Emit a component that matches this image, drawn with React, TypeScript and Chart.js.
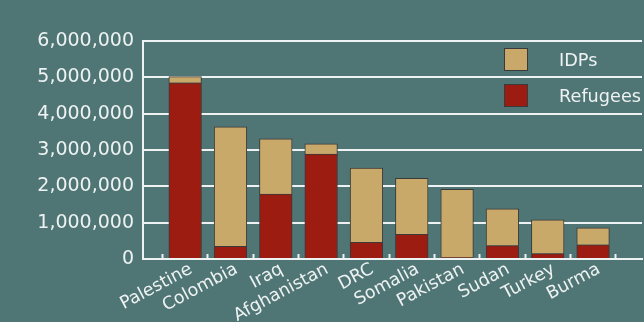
import { useEffect, useRef } from 'react';
import { Chart, registerables } from 'chart.js';

Chart.register(...registerables);

// Displaced populations by country of origin
const countries = ['Palestine', 'Colombia', 'Iraq', 'Afghanistan', 'DRC', 'Somalia', 'Pakistan', 'Sudan', 'Turkey', 'Burma'];
const refugees = [4850000, 350000, 1790000, 2890000, 460000, 680000, 40000, 370000, 150000, 390000];
const idps = [170000, 3290000, 1520000, 280000, 2040000, 1540000, 1880000, 1010000, 930000, 470000];
const yMax = 6000000;
const yStep = 1000000;

const BG = '#4f7575';
const RED = '#9c1c12';
const TAN = '#c9a969';
const EDGE = '#3a3a3a';
const WHITE = '#eef2f2';
const FONT = "'DejaVu Sans', sans-serif";

// Legend drawn inside the plot, top-right, IDPs above Refugees
const sideLegend = {
  id: 'sideLegend',
  afterDraw(chart: any) {
    const { ctx, chartArea } = chart;
    const sets = [...chart.data.datasets].reverse();
    ctx.save();
    ctx.font = `17.7px ${FONT}`;
    ctx.textBaseline = 'middle';
    ctx.textAlign = 'left';
    sets.forEach((ds: any, i: number) => {
      const bx = chartArea.right - 138;
      const by = chartArea.top + 7 + i * 36;
      ctx.fillStyle = ds.backgroundColor;
      ctx.fillRect(bx, by, 24, 23);
      ctx.strokeStyle = EDGE;
      ctx.lineWidth = 1;
      ctx.strokeRect(bx + 0.5, by + 0.5, 23, 22);
      ctx.fillStyle = WHITE;
      ctx.fillText(ds.label, chartArea.right - 83, by + 13);
    });
    ctx.restore();
  },
};

export default function App() {
  const ref = useRef<HTMLCanvasElement>(null);

  useEffect(() => {
    if (!ref.current) return;
    const chart = new Chart(ref.current, {
      type: 'bar',
      data: {
        datasets: [
          {
            label: 'Refugees',
            data: countries.map((_, i) => ({ x: i, y: refugees[i] })),
            backgroundColor: RED,
            borderColor: EDGE,
            borderWidth: 1,
            barThickness: 'flex',
          },
          {
            label: 'IDPs',
            data: countries.map((_, i) => ({ x: i, y: idps[i] })),
            backgroundColor: TAN,
            borderColor: EDGE,
            borderWidth: 1,
            barThickness: 'flex',
          },
        ],
      },
      options: {
        responsive: false,
        animation: false,
        layout: { padding: { top: 41, right: 2, left: 0, bottom: 0 } },
        plugins: { legend: { display: false }, tooltip: { enabled: false } },
        scales: {
          x: {
            type: 'linear',
            stacked: true,
            offset: false,
            min: -0.93,
            max: 10.08,
            afterBuildTicks: (scale: any) => {
              const t = [];
              for (let k = 0; k <= countries.length * 2; k++) t.push({ value: -0.5 + k * 0.5 });
              scale.ticks = t;
            },
            afterFit: (scale: any) => {
              scale.height = 63;
            },
            ticks: {
              autoSkip: false,
              minRotation: 28,
              maxRotation: 28,
              padding: 5,
              labelOffset: 6,
              color: WHITE,
              font: { family: FONT, size: 17.5 },
              callback: (value: any) => {
                const v = Number(value);
                return Number.isInteger(v) ? countries[v] : '';
              },
            },
            grid: {
              display: true,
              offset: false,
              drawOnChartArea: false,
              drawTicks: true,
              tickLength: -5,
              tickWidth: 2,
              tickColor: (c: any) =>
                c.tick && !Number.isInteger(c.tick.value) ? WHITE : 'rgba(0,0,0,0)',
            },
            border: { display: true, color: WHITE, width: 2 },
          },
          y: {
            stacked: true,
            min: 0,
            max: yMax,
            afterFit: (scale: any) => {
              scale.width = 143;
            },
            ticks: {
              stepSize: yStep,
              padding: 9,
              color: WHITE,
              font: { family: FONT, size: 19 },
              callback: (value: any) => Number(value).toLocaleString('en-US'),
            },
            grid: { color: WHITE, lineWidth: 2, drawTicks: false },
            border: { display: true, color: WHITE, width: 2 },
          },
        },
      },
      plugins: [sideLegend],
    } as any);
    return () => chart.destroy();
  }, []);

  return (
    <div style={{ position: 'fixed', left: 0, top: 0, width: 644, height: 322, background: BG }}>
      <canvas ref={ref} width={644} height={322} style={{ display: 'block', width: 644, height: 322 }} />
    </div>
  );
}
